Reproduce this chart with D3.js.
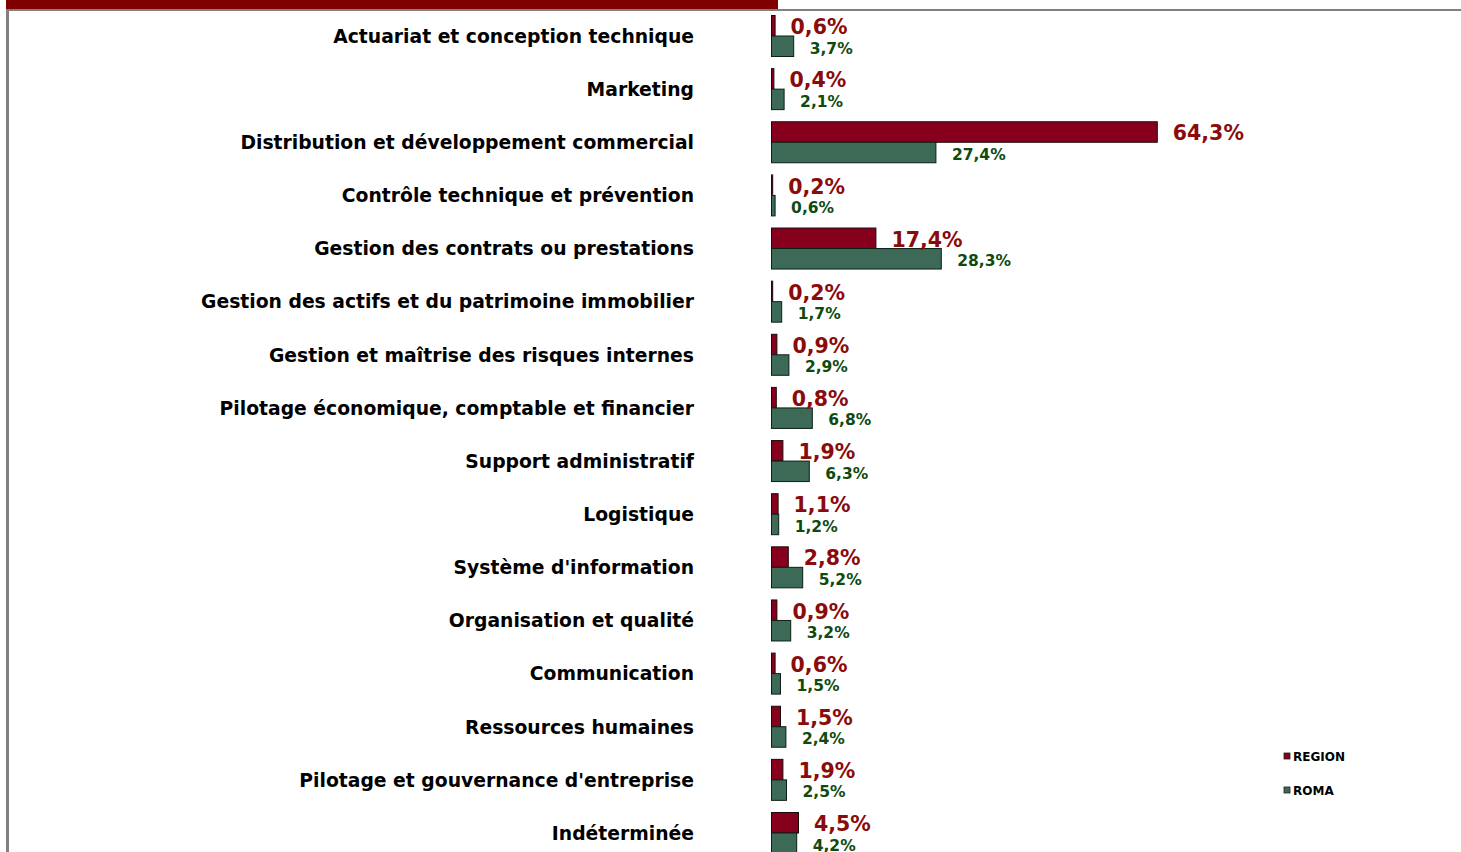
<!DOCTYPE html>
<html>
<head>
<meta charset="utf-8">
<script src="https://cdn.jsdelivr.net/npm/d3@7"></script>
<style>
  html, body { margin: 0; padding: 0; background: #fff; }
  svg { display: block; }
  text { font-family: "DejaVu Sans", Verdana, sans-serif; font-weight: bold; }
</style>
</head>
<body>
<svg id="chart" width="1461" height="852"></svg>
<script>
const categories = [
  "Actuariat et conception technique",
  "Marketing",
  "Distribution et développement commercial",
  "Contrôle technique et prévention",
  "Gestion des contrats ou prestations",
  "Gestion des actifs et du patrimoine immobilier",
  "Gestion et maîtrise des risques internes",
  "Pilotage économique, comptable et financier",
  "Support administratif",
  "Logistique",
  "Système d'information",
  "Organisation et qualité",
  "Communication",
  "Ressources humaines",
  "Pilotage et gouvernance d'entreprise",
  "Indéterminée"
];
const regionValues = [0.6, 0.4, 64.3, 0.2, 17.4, 0.2, 0.9, 0.8, 1.9, 1.1, 2.8, 0.9, 0.6, 1.5, 1.9, 4.5];
const romaValues   = [3.7, 2.1, 27.4, 0.6, 28.3, 1.7, 2.9, 6.8, 6.3, 1.2, 5.2, 3.2, 1.5, 2.4, 2.5, 4.2];
const seriesNames = ["REGION", "ROMA"];

const fmt = v => v.toFixed(1).replace(".", ",") + "%";

const svg = d3.select("#chart");
const RED = "#86001E", GREEN = "#3D6A56";
const RED_TXT = "#8A0B0B", GREEN_TXT = "#0F4A0F";

// frame and title banner
svg.append("rect").attr("x", 6).attr("y", 9).attr("width", 1461).attr("height", 2).attr("fill", "#808080");
svg.append("rect").attr("x", 6).attr("y", 9).attr("width", 3).attr("height", 852).attr("fill", "#808080");
svg.append("rect").attr("x", 6).attr("y", -20).attr("width", 772).attr("height", 29).attr("fill", "#800000");

const x = d3.scaleLinear().domain([0, 100]).range([771.5, 1371.5]);
const y = d3.scalePoint().domain(categories).range([36, 833]);
const barH = 20.5;

const rows = categories.map((c, i) => ({ c, r: regionValues[i], g: romaValues[i] }));

const g = svg.append("g");
const row = g.selectAll("g.row").data(rows).join("g").attr("class", "row");

row.append("text")
  .attr("x", 694)
  .attr("y", d => y(d.c) + 6.8)
  .attr("text-anchor", "end")
  .attr("font-size", 18.75)
  .attr("fill", "#000")
  .text(d => d.c);

row.append("rect")
  .attr("x", x(0))
  .attr("y", d => y(d.c) - barH)
  .attr("width", d => x(d.r) - x(0))
  .attr("height", barH)
  .attr("fill", RED)
  .attr("stroke", "#1a0a0a")
  .attr("stroke-width", 1);

row.append("rect")
  .attr("x", x(0))
  .attr("y", d => y(d.c))
  .attr("width", d => x(d.g) - x(0))
  .attr("height", barH)
  .attr("fill", GREEN)
  .attr("stroke", "#0d1f14")
  .attr("stroke-width", 1);

row.append("text")
  .attr("x", d => x(d.r) + 15.5)
  .attr("y", d => y(d.c) - barH / 2 + 8.4)
  .attr("font-size", 20.5)
  .attr("fill", RED_TXT)
  .text(d => fmt(d.r));

row.append("text")
  .attr("x", d => x(d.g) + 16)
  .attr("y", d => y(d.c) + barH / 2 + 7.3)
  .attr("font-size", 15.5)
  .attr("fill", GREEN_TXT)
  .text(d => fmt(d.g));

// legend
const legend = svg.append("g").attr("transform", "translate(1284,753)");
const li = legend.selectAll("g").data(seriesNames).join("g")
  .attr("transform", (d, i) => `translate(0,${i * 34})`);
li.append("rect").attr("width", 6).attr("height", 6)
  .attr("fill", (d, i) => i === 0 ? RED : GREEN)
  .attr("stroke", "#222").attr("stroke-width", 0.8);
li.append("text").attr("x", 9).attr("y", 8).attr("font-size", 12).attr("fill", "#000").text(d => d);
</script>
</body>
</html>
